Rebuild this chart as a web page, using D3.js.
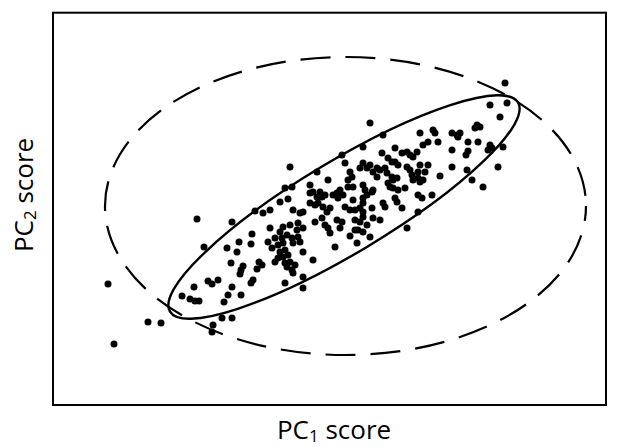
<!DOCTYPE html>
<html>
<head>
<meta charset="utf-8">
<script src="https://cdn.jsdelivr.net/npm/d3@7"></script>
<style>
  body { margin: 0; background: #fff; }
  text { font-family: "Open Sans", "Noto Sans", sans-serif; fill: #000; }
</style>
</head>
<body>
<div id="container"></div>
<script>
/* CONSTANTS AND GLOBALS */
const width = 617,
  height = 447,
  margin = { top: 12.7, right: 11, bottom: 42, left: 53 };

// PC1 / PC2 scores (no ticks, so units are arbitrary, origin at the mean)
const scores = [
  // lower-left end of the cloud
  [-14.8, -1.2], [-11.3, -1.5], [-9.0, -0.4], [-14.1, -4.0], [-11.8, -4.1], [-10.6, -3.5],
  [-9.3, -2.7], [-9.4, -3.7], [-10.8, -4.5], [-11.4, -5.6], [-8.6, -5.5], [-10.2, -5.9],
  [-10.4, -6.3], [-10.5, -6.7], [-8.8, -6.2], [-8.3, -5.8], [-13.7, -7.4], [-13.3, -7.7],
  [-12.7, -7.3], [-15.1, -8.0], [-9.2, -7.3], [-9.4, -7.6], [-11.3, -8.0], [-16.3, -8.9],
  [-15.5, -9.2], [-15.0, -9.4], [-14.6, -9.4], [-11.7, -8.8], [-10.4, -8.8], [-12.1, -9.5],
  // outliers bottom left
  [-23.7, -7.7], [-23.1, -13.7], [-19.7, -11.5], [-18.4, -11.6], [-12.3, -11.1], [-11.3, -11.1],
  [-13.2, -11.8], [-13.3, -12.5],
  // left-centre
  [-2.8, 3.5], [-1.7, 2.7], [-3.5, 2.2], [-5.3, 2.0], [-6.0, 1.9], [-3.5, 1.4], [-3.2, 1.5],
  [-2.8, 1.0], [-2.5, 1.5], [-2.3, 1.0], [-2.0, 1.2], [-1.2, 1.2], [-6.5, 0.5], [-5.7, 0.8],
  [-3.5, 0.4], [-3.0, 0.2], [-2.7, 0.4], [-2.2, 0.0], [-1.8, -0.5], [-1.5, -0.1], [-8.2, -0.6],
  [-7.5, -0.3], [-5.2, -0.3], [-4.5, -0.6], [-4.2, -0.5], [-3.0, -1.5], [-2.3, -1.1], [-2.0, -1.8],
  [-1.7, -2.1], [-1.5, -2.6], [-7.5, -2.1], [-6.5, -2.5], [-6.2, -2.0], [-5.5, -1.8], [-4.7, -1.6],
  [-4.8, -2.3], [-4.2, -2.1], [-7.0, -3.1], [-6.3, -3.1], [-6.2, -3.6], [-5.8, -2.8], [-5.3, -3.1],
  [-5.2, -3.6], [-4.7, -3.0], [-4.5, -3.5], [-7.7, -3.5], [-7.3, -4.1], [-6.7, -3.8], [-6.5, -4.5],
  [-6.0, -4.3], [-5.7, -4.8], [-4.2, -4.5], [-7.0, -5.5], [-6.7, -5.1], [-6.2, -5.0], [-6.0, -5.6],
  [-5.8, -6.0], [-5.5, -5.5], [-5.3, -6.3], [-5.0, -5.8], [-3.2, -5.3], [-5.2, -6.6], [-4.2, -7.0],
  [-6.0, -7.6], [-4.2, -8.1], [-5.5, 4.0],
  // right-centre
  [3.8, 7.2], [1.8, 6.0], [-0.3, 5.2], [2.5, 8.4], [5.0, 5.9], [5.7, 5.4], [6.2, 5.5], [6.5, 5.2],
  [7.2, 5.5], [6.8, 5.0], [3.7, 5.4], [4.3, 4.9], [4.7, 4.5], [5.0, 4.5], [5.3, 4.2], [0.0, 4.4],
  [1.8, 4.4], [2.5, 4.2], [2.2, 3.9], [1.5, 3.9], [3.2, 3.9], [3.5, 3.7], [4.0, 3.9], [6.2, 4.0],
  [7.3, 3.5], [6.5, 3.7], [0.5, 3.5], [0.7, 3.0], [0.3, 2.7], [2.8, 3.5], [3.2, 3.0], [4.2, 3.4],
  [4.7, 3.0], [4.8, 2.7], [5.2, 2.9], [4.3, 2.4], [6.7, 3.2], [6.8, 2.7], [7.3, 2.9], [7.5, 2.5],
  [7.8, 2.7], [-0.8, 1.4], [-0.5, 1.7], [-0.2, 1.2], [0.3, 2.0], [0.8, 2.0], [1.8, 2.2], [2.0, 1.7],
  [2.2, 1.2], [2.7, 1.5], [2.8, 1.7], [4.5, 2.0], [4.8, 1.9], [5.3, 1.7], [6.0, 1.9], [7.3, 1.2],
  [7.7, 0.9], [-0.7, 0.9], [0.8, 0.7], [1.8, 0.9], [1.8, 0.4], [5.0, 0.9], [5.2, 0.5], [3.8, 0.4],
  [4.0, 0.0], [5.7, -0.1], [0.0, 0.0], [0.5, -0.3], [1.0, -0.3], [1.5, -0.1], [1.8, -0.5],
  [2.7, -0.1], [7.3, -0.5], [-0.8, -1.3], [-0.3, -1.5], [1.0, -1.3], [1.5, -1.5], [1.8, -1.0],
  [2.2, -1.8], [2.8, -1.1], [3.5, -1.3], [-0.5, -2.1], [1.0, -2.3], [1.3, -2.3], [1.8, -2.5],
  [2.5, -3.0], [0.5, -2.9], [6.2, -2.1], [-1.0, -4.0], [1.2, -3.6],
  // upper-right end of the cloud
  [16.0, 12.4], [14.5, 10.2], [16.2, 10.4], [15.5, 9.0], [13.2, 8.2], [13.5, 8.0], [13.0, 7.9],
  [8.8, 7.7], [9.0, 7.4], [7.5, 7.4], [10.7, 7.4], [11.2, 7.2], [11.5, 7.4], [11.3, 7.0],
  [8.3, 6.5], [9.3, 6.5], [7.8, 6.2], [12.3, 6.5], [13.3, 6.5], [10.7, 5.7], [12.3, 5.6],
  [12.1, 5.2], [14.5, 6.2], [14.7, 5.9], [14.3, 5.7], [15.8, 6.0], [7.5, 4.2], [8.3, 4.2],
  [8.0, 3.5], [10.7, 4.0], [12.2, 3.7], [15.3, 4.0], [9.5, 3.1], [12.7, 2.7], [13.8, 2.0],
  [8.7, 1.2]
];

// tilted ellipse fitted to the cloud (semi-axes a, b; angle in degrees)
const fitEllipse = { cx: -0.1, cy: 0, a: 20.3, b: 4.6, angle: 31 };
// dashed reference ellipse
const refEllipse = { cx: 0.05, cy: 0.1, rx: 24.05, ry: 14.9 };

const xDomain = [-29.2, 26.1];
const yDomain = [-19.8, 19.43];
const xLabel = ["PC", "1", " score"];
const yLabel = ["PC", "2", " score"];

/* SCALES */
const x = d3.scaleLinear().domain(xDomain).range([margin.left, width - margin.right]);
const y = d3.scaleLinear().domain(yDomain).range([height - margin.bottom, margin.top]);

/* SVG */
const svg = d3.select("#container")
  .append("svg")
  .attr("width", width)
  .attr("height", height);

// frame
svg.append("rect")
  .attr("x", margin.left)
  .attr("y", margin.top)
  .attr("width", width - margin.left - margin.right)
  .attr("height", height - margin.top - margin.bottom)
  .attr("fill", "none")
  .attr("stroke", "#000")
  .attr("stroke-width", 2);

// dashed ellipse
svg.append("ellipse")
  .attr("cx", x(refEllipse.cx))
  .attr("cy", y(refEllipse.cy))
  .attr("rx", x(refEllipse.rx) - x(0))
  .attr("ry", y(0) - y(refEllipse.ry))
  .attr("fill", "none")
  .attr("stroke", "#000")
  .attr("stroke-width", 2.2)
  .attr("stroke-dasharray", "30 15")
  .attr("stroke-dashoffset", 15);

// fitted ellipse
svg.append("ellipse")
  .attr("transform", `translate(${x(fitEllipse.cx)},${y(fitEllipse.cy)}) rotate(${-fitEllipse.angle})`)
  .attr("rx", x(fitEllipse.a) - x(0))
  .attr("ry", x(fitEllipse.b) - x(0))
  .attr("fill", "none")
  .attr("stroke", "#000")
  .attr("stroke-width", 2.4);

// points
svg.selectAll("circle.score")
  .data(scores)
  .join("circle")
  .attr("class", "score")
  .attr("cx", d => x(d[0]))
  .attr("cy", d => y(d[1]))
  .attr("r", 3.5)
  .attr("fill", "#000");

// axis titles with subscripts
function addLabel(g, parts) {
  const t = g.append("text")
    .attr("text-anchor", "middle")
    .attr("font-size", 26);
  t.append("tspan").text(parts[0]);
  t.append("tspan").attr("font-size", 17).attr("dy", 3).text(parts[1]);
  t.append("tspan").attr("dy", -3).text(parts[2]);
}

addLabel(svg.append("g").attr("transform", "translate(334,439)"), xLabel);
addLabel(svg.append("g").attr("transform", "translate(33,195) rotate(-90)"), yLabel);
</script>
</body>
</html>
